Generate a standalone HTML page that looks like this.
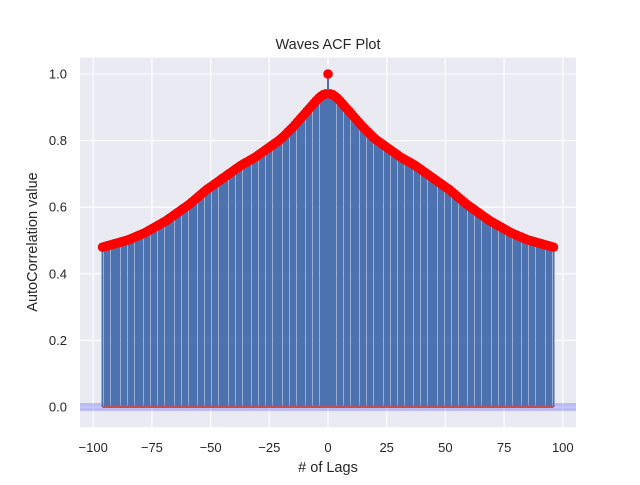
<!DOCTYPE html>
<html><head><meta charset="utf-8"><style>
body{margin:0;background:#fff}
svg text{font-family:"Liberation Sans","DejaVu Sans",sans-serif;fill:#262626}
</style></head><body>
<svg id="chart" width="640" height="480" xmlns="http://www.w3.org/2000/svg">
<rect x="0" y="0" width="640" height="480" fill="#fff"/>
<rect x="80" y="57.6" width="496" height="369.6" fill="#eaeaf2"/>
<g id="grid"></g><g id="marks"></g><g id="ticks"></g>
<text x="328" y="49" font-size="14.5" text-anchor="middle">Waves ACF Plot</text>
<text x="328" y="472" font-size="14.5" text-anchor="middle"># of Lags</text>
<text transform="translate(37,242) rotate(-90)" font-size="14.5" text-anchor="middle">AutoCorrelation value</text>
</svg>
<script>
const acfPositive=[1.000,0.940,0.938,0.933,0.927,0.920,0.912,0.904,0.896,0.888,0.880,0.872,0.864,0.856,0.848,0.840,0.833,0.826,0.819,0.812,0.806,0.800,0.795,0.790,0.785,0.780,0.775,0.770,0.765,0.760,0.755,0.750,0.746,0.742,0.738,0.734,0.730,0.726,0.721,0.716,0.711,0.706,0.701,0.696,0.691,0.686,0.681,0.676,0.671,0.666,0.661,0.656,0.651,0.645,0.639,0.633,0.627,0.621,0.615,0.609,0.604,0.599,0.594,0.589,0.584,0.579,0.574,0.569,0.564,0.559,0.555,0.551,0.547,0.543,0.539,0.535,0.531,0.527,0.523,0.520,0.517,0.514,0.511,0.508,0.505,0.502,0.500,0.498,0.496,0.494,0.492,0.490,0.488,0.486,0.484,0.482,0.480];
const acfNegative=[0.480,0.482,0.484,0.486,0.488,0.490,0.492,0.494,0.496,0.498,0.500,0.502,0.505,0.508,0.511,0.514,0.517,0.520,0.523,0.527,0.531,0.535,0.539,0.543,0.547,0.551,0.555,0.559,0.564,0.569,0.574,0.579,0.584,0.589,0.594,0.599,0.604,0.609,0.615,0.621,0.627,0.633,0.639,0.645,0.651,0.656,0.661,0.666,0.671,0.676,0.681,0.686,0.691,0.696,0.701,0.706,0.711,0.716,0.721,0.726,0.730,0.734,0.738,0.742,0.746,0.750,0.755,0.760,0.765,0.770,0.775,0.780,0.785,0.790,0.795,0.800,0.806,0.812,0.819,0.826,0.833,0.840,0.848,0.856,0.864,0.872,0.880,0.888,0.896,0.904,0.912,0.920,0.927,0.933,0.938,0.940];
const xTicks=[-100,-75,-50,-25,0,25,50,75,100];
const yTicks=[0.0,0.2,0.4,0.6,0.8,1.0];
const maxLag=96;
const NS="http://www.w3.org/2000/svg";
const X=v=>328+v*2.348;
const Y=v=>407-v*333;
function mk(tag,attrs,parent){const e=document.createElementNS(NS,tag);for(const k in attrs)e.setAttribute(k,attrs[k]);parent.appendChild(e);return e;}
const grid=document.getElementById('grid'),marks=document.getElementById('marks'),ticks=document.getElementById('ticks');
xTicks.forEach(t=>{
  const l=mk('line',{x1:X(t),x2:X(t),y1:57.6,y2:427.2,stroke:'#fff','stroke-width':1.1},grid);
  
  
  const tx=mk('text',{x:X(t),y:452,'font-size':13,'text-anchor':'middle'},ticks);
  tx.textContent=(t<0?'\u2212'+(-t):''+t);
  
  
});
yTicks.forEach(t=>{
  const l=mk('line',{x1:80,x2:576,y1:Y(t),y2:Y(t),stroke:'#fff','stroke-width':1.1},grid);
  
  
  const tx=mk('text',{x:67,y:Y(t)+4.5,'font-size':13,'text-anchor':'end'},ticks);
  tx.textContent=t.toFixed(1);
  
  
});
const band=mk('rect',{x:80,y:Y(0.012),width:496,height:Y(-0.012)-Y(0.012),fill:'#0000ff','fill-opacity':0.2},marks);


const lags=[],vals=[];
for(let i=0;i<acfNegative.length;i++){lags.push(-maxLag+i);vals.push(acfNegative[i]);}
for(let i=0;i<acfPositive.length;i++){lags.push(i);vals.push(acfPositive[i]);}
lags.forEach((lag,i)=>{
  const v=mk('line',{x1:X(lag),x2:X(lag),y1:Y(0),y2:Y(vals[i]),stroke:'#4c72b0','stroke-width':2.2,'shape-rendering':'crispEdges'},marks);
  
  
});
const zl=mk('line',{x1:X(-maxLag),x2:X(maxLag),y1:Y(0),y2:Y(0),stroke:'#c44e52','stroke-width':2},marks);


lags.forEach((lag,i)=>{
  const c=mk('circle',{cx:X(lag),cy:Y(vals[i]),r:4.8,fill:'#ff0000'},marks);
  
  
});
</script>
</body></html>
